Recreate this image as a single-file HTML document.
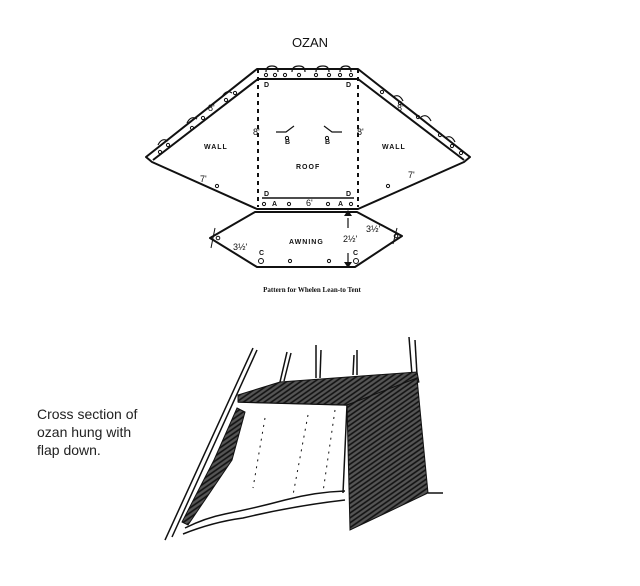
<!DOCTYPE html>
<html><head><style>
html,body{margin:0;padding:0;background:#fff;}
body{width:640px;height:586px;position:relative;overflow:hidden;font-family:"Liberation Sans",sans-serif;}
.t{position:absolute;left:37px;top:405px;font-size:14px;line-height:18px;color:#222;}
</style></head><body>
<svg width="640" height="586" viewBox="0 0 640 586" xmlns="http://www.w3.org/2000/svg" style="position:absolute;left:0;top:0">
<defs>
<pattern id="h" width="4" height="4" patternUnits="userSpaceOnUse" patternTransform="rotate(-35)">
<rect width="4" height="4" fill="#555"/><line x1="0" y1="1" x2="4" y2="1" stroke="#111" stroke-width="1.6"/>
</pattern>
</defs>
<text x="310" y="47" font-family="Liberation Sans, sans-serif" font-size="13" text-anchor="middle" fill="#111">OZAN</text>
<g stroke="#111" stroke-width="2" fill="none" stroke-linejoin="round">
<polygon points="257,69 358,69 470,157 464,162 358,209 257,209 152,162 146,157"/>
<polyline points="153,160 258,79 358,79 464,160"/>
<line x1="262" y1="198" x2="354" y2="198" stroke-width="1.5"/>
<line x1="258" y1="69" x2="258" y2="207" stroke-dasharray="4,4"/>
<line x1="358" y1="69" x2="358" y2="207" stroke-dasharray="4,4"/>
<polygon points="255,212 357,212 402,236 355,267 257,267 210,238"/>
<path d="M266,72 q0,-6 6,-6 q6,0 6,6 M292,72 q0,-6 7,-6 q6,0 6,6 M316,72 q0,-6 7,-6 q6,0 6,6 M340,72 q0,-6 6,-6 q5,0 5,6" stroke-width="1.2"/>
<path d="M158,145 q4,-8 10,-4 M187,123 q4,-8 10,-4 M222,97 q4,-8 10,-4 M393,97 q6,-4 10,4 M421,117 q6,-4 10,4 M445,138 q6,-4 10,4" stroke-width="1.2"/>
<path d="M276,132 h10 l8,-6 M324,126 l8,6 h10" stroke-width="1.2"/>
<path d="M348,218 v10 M348,253 v12" stroke-width="1.2"/>
<path d="M215,228 l-4,20 M397,228 l-4,16" stroke-width="1"/>
</g>
<g fill="none" stroke="#111" stroke-width="1">
<circle cx="266" cy="75" r="1.6"/><circle cx="275" cy="75" r="1.6"/><circle cx="285" cy="75" r="1.6"/><circle cx="299" cy="75" r="1.6"/>
<circle cx="316" cy="75" r="1.6"/><circle cx="329" cy="75" r="1.6"/><circle cx="340" cy="75" r="1.6"/><circle cx="351" cy="75" r="1.6"/>
<circle cx="160" cy="152" r="1.6"/><circle cx="168" cy="145" r="1.6"/><circle cx="192" cy="128" r="1.6"/><circle cx="203" cy="118" r="1.6"/><circle cx="226" cy="100" r="1.6"/><circle cx="235" cy="93" r="1.6"/>
<circle cx="382" cy="92" r="1.6"/><circle cx="400" cy="103" r="1.6"/><circle cx="418" cy="117" r="1.6"/><circle cx="440" cy="135" r="1.6"/><circle cx="452" cy="146" r="1.6"/><circle cx="461" cy="153" r="1.6"/>
<circle cx="217" cy="186" r="1.6"/><circle cx="388" cy="186" r="1.6"/>
<circle cx="264" cy="204" r="1.6"/><circle cx="289" cy="204" r="1.6"/><circle cx="328" cy="204" r="1.6"/><circle cx="351" cy="204" r="1.6"/>
<circle cx="287" cy="138" r="1.6"/><circle cx="327" cy="138" r="1.6"/>
<circle cx="218" cy="238" r="1.8"/><circle cx="396" cy="236" r="1.8"/>
<circle cx="261" cy="261" r="2.5"/><circle cx="356" cy="261" r="2.5"/><circle cx="290" cy="261" r="1.6"/><circle cx="329" cy="261" r="1.6"/>
</g>
<g fill="#111" stroke="none">
<path d="M344,216 l4,-6 l4,6 z M344,262 l4,6 l4,-6 z"/>
</g>
<g font-family="Liberation Sans, sans-serif" font-size="7" font-weight="bold" fill="#111">
<text x="204" y="149" letter-spacing="1">WALL</text>
<text x="382" y="149" letter-spacing="1">WALL</text>
<text x="296" y="169" letter-spacing="1">ROOF</text>
<text x="289" y="244" letter-spacing="1">AWNING</text>
<text x="264" y="87">D</text><text x="346" y="87">D</text>
<text x="264" y="196">D</text><text x="346" y="196">D</text>
<text x="253" y="135" font-size="9" font-weight="normal">8'</text>
<text x="357" y="135" font-size="9" font-weight="normal">8'</text>
<text x="285" y="144">B</text><text x="325" y="144">B</text>
<text x="272" y="206">A</text><text x="338" y="206">A</text>
<text x="306" y="206" font-size="9" font-weight="normal">6'</text>
<text x="208" y="111" font-size="9" font-weight="normal">8'</text>
<text x="397" y="111" font-size="9" font-weight="normal">8'</text>
<text x="200" y="182" font-size="9" font-weight="normal">7'</text>
<text x="408" y="178" font-size="9" font-weight="normal">7'</text>
<text x="233" y="250" font-size="9" font-weight="normal">3½'</text>
<text x="366" y="232" font-size="9" font-weight="normal">3½'</text>
<text x="343" y="242" font-size="9" font-weight="normal">2½'</text>
<text x="259" y="255">C</text><text x="353" y="255">C</text>
</g>
<text x="312" y="292" font-family="Liberation Serif, serif" font-size="7" font-weight="bold" text-anchor="middle" fill="#111">Pattern for Whelen Lean-to Tent</text>
<g stroke="#111" fill="none" stroke-width="1.5">
<line x1="253" y1="348" x2="165" y2="540"/>
<line x1="257" y1="350" x2="172" y2="537"/>
<line x1="287" y1="352" x2="280" y2="382"/><line x1="291" y1="353" x2="284" y2="381"/>
<line x1="316" y1="345" x2="316" y2="378"/><line x1="321" y1="350" x2="320" y2="378"/>
<line x1="354" y1="355" x2="353" y2="375"/><line x1="357" y1="350" x2="357" y2="375"/>
<line x1="409" y1="337" x2="412" y2="375"/><line x1="415" y1="340" x2="417" y2="375"/>
<line x1="428" y1="493" x2="443" y2="493"/>
<path d="M238,402 L347,405 L343,493"/>
<path d="M185,528 q20,-10 40,-14 q30,-6 60,-14 q30,-8 60,-9"/>
<path d="M183,534 q30,-12 60,-16 q50,-12 102,-18"/>
<path d="M265,418 l-12,70 M308,415 l-15,80 M335,410 l-12,82" stroke-dasharray="2,5" stroke-width="1"/>
</g>
<g stroke="#111" stroke-width="1">
<polygon points="238,395 280,382 417,372 419,382 347,405 238,402" fill="url(#h)"/>
<polygon points="347,405 417,378 428,493 350,530" fill="url(#h)"/>
<polygon points="237,408 245,412 232,460 188,525 182,522 214,460" fill="url(#h)"/>
</g>
</svg>
<div class="t">Cross section of<br>ozan hung with<br>flap down.</div>
</body></html>
